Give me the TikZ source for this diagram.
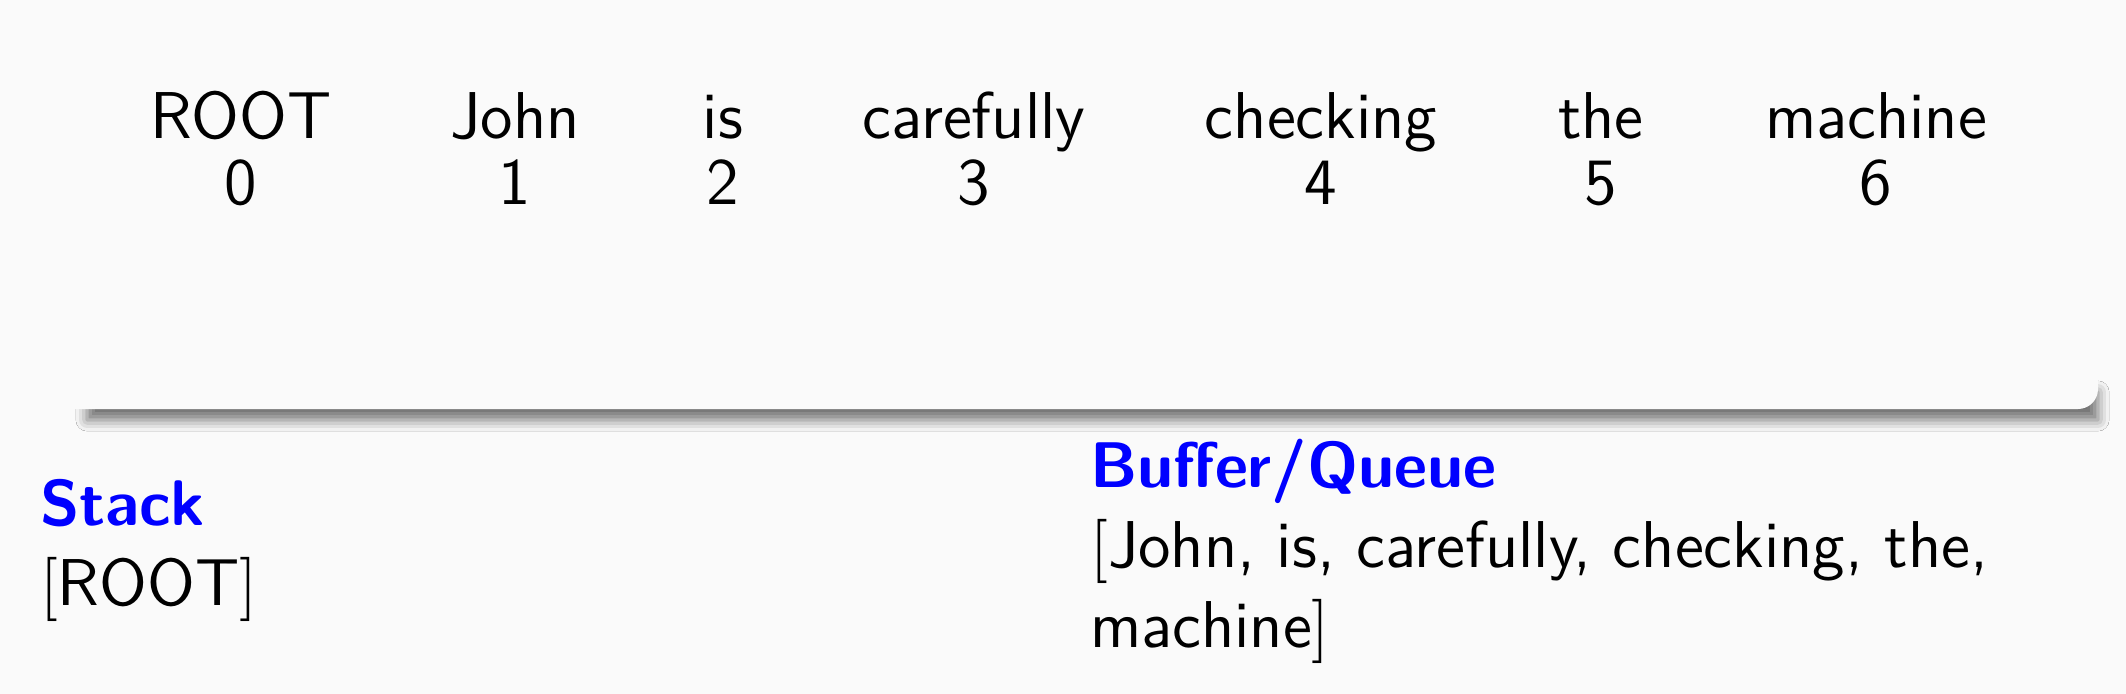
\documentclass[tikz,border=0pt]{standalone}
\usepackage{tikz}
\usetikzlibrary{shadows.blur}

\definecolor{slidebg}{HTML}{FAFAFA}
\definecolor{headblue}{HTML}{0000FF}
\newcommand{\slidefont}{\fontsize{11.3pt}{13.6pt}\selectfont\sffamily}
\newcommand{\headfont}{\fontsize{11pt}{13.6pt}\selectfont\sffamily\bfseries}
\tikzset{
  word/.style={anchor=base, inner sep=0pt, font=\slidefont},
  listtext/.style={anchor=base west, inner sep=0pt, font=\slidefont},
  listhead/.style={anchor=base west, inner sep=0pt, font=\headfont, text=headblue},
}

\begin{document}
\begin{tikzpicture}[x=0.006cm, y=-0.006cm]
  \fill[slidebg] (0,0) rectangle (2126,694);
  \useasboundingbox (0,0) rectangle (2126,694);

  % panel holding the sentence, only its shadow shows
  \path[blur shadow={shadow xshift=0pt, shadow yshift=0pt, shadow blur radius=1.9pt, shadow opacity=55}]
    (87,392) rectangle (2098,420);
  \fill[slidebg, rounded corners=3.4pt] (-20,-20) rectangle (2098,409);

  % words and their positions
  \foreach \w/\x [count=\i from 0] in {ROOT/241, John/515, is/723, carefully/974, checking/1321, the/1601, machine/1876} {
    \node[word] (w\i) at (\x,139) {\w};
    \node[word] (n\i) at (\x,204) {\i};
  }

  % stack
  \node[listhead] (stackhead) at (39,525) {Stack};
  \node[listtext] (stack) at (39,605) {$[$ROOT$]$};

  % buffer
  \node[listhead] (bufhead) at (1089,487) {Buffer/Queue};
  \node[listtext] (buf1) at (1089,567) {$[$John, is, carefully, checking, the,};
  \node[listtext] (buf2) at (1089,647) {machine$]$};
\end{tikzpicture}
\end{document}
